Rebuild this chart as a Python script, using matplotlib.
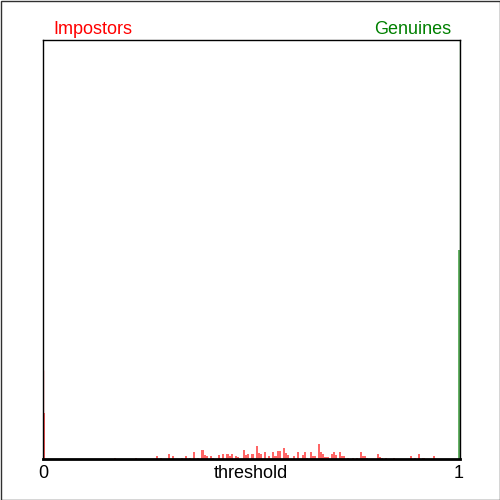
import matplotlib
matplotlib.use("Agg")
import matplotlib.pyplot as plt
from matplotlib.patches import Rectangle

plt.rcParams['font.family'] = ['Liberation Sans', 'DejaVu Sans']

# histogram bins: left edge of each bin (bin width 0.005) and its count
bin_width = 0.005
impostor_bins = [0.000, 0.170, 0.220, 0.270, 0.280, 0.300, 0.310, 0.330, 0.340,
                 0.350, 0.360, 0.370, 0.380, 0.385, 0.390, 0.400, 0.405, 0.420,
                 0.430, 0.440, 0.445, 0.450, 0.460, 0.465, 0.480, 0.485, 0.490,
                 0.500, 0.510, 0.515, 0.520, 0.530, 0.540, 0.550, 0.555, 0.560,
                 0.565, 0.575, 0.580, 0.585, 0.600, 0.610, 0.620, 0.625, 0.630,
                 0.640, 0.645, 0.650, 0.660, 0.665, 0.670, 0.675, 0.680, 0.690,
                 0.695, 0.700, 0.710, 0.715, 0.720, 0.730, 0.740, 0.750, 0.760,
                 0.765, 0.770, 0.775, 0.800, 0.805, 0.810, 0.820, 0.840, 0.880,
                 0.890, 0.900, 0.910, 0.935]
impostor_counts = [46, 1, 1, 3, 1, 5, 3, 1, 3,
                   1, 7, 1, 9, 4, 3, 3, 1, 4,
                   5, 5, 3, 5, 3, 2, 9, 4, 5,
                   5, 13, 6, 5, 7, 3, 7, 3, 8,
                   8, 11, 6, 4, 3, 7, 4, 7, 1,
                   7, 3, 3, 15, 7, 5, 2, 2, 5,
                   7, 4, 7, 3, 3, 1, 1, 1, 7,
                   3, 3, 1, 5, 2, 1, 1, 1, 3,
                   1, 5, 1, 3]
genuine_bins = [0.995]
genuine_counts = [209]

# scores exactly on the range ends
impostor_edge_score = 0.0
impostor_edge_count = 89
genuine_edge_score = 1.0
genuine_edge_count = 419

fig = plt.figure(figsize=(5, 5), dpi=100)
ax = fig.add_axes([0.086, 0.082, 0.834, 0.838])

ax.bar(impostor_bins, impostor_counts, width=bin_width, align='edge',
       color='red', alpha=0.6, linewidth=0)
ax.bar(genuine_bins, genuine_counts, width=bin_width, align='edge',
       color='green', alpha=0.6, linewidth=0)
ax.vlines(impostor_edge_score, 0, impostor_edge_count, color='red', alpha=0.6, lw=1)
ax.vlines(genuine_edge_score, 0, genuine_edge_count, color='green', alpha=0.6, lw=1)

ax.set_xlim(0, 1)
ax.set_ylim(0, genuine_edge_count)
ax.set_xticks([])
ax.set_yticks([])
for side in ['left', 'right', 'top']:
    ax.spines[side].set_color('black')
    ax.spines[side].set_linewidth(1)
ax.spines['bottom'].set_linewidth(2)

# labels around the plot
fig.text(0.106, 0.941, 'Impostors', color='red', fontsize=13, ha='left', va='center')
fig.text(0.902, 0.941, 'Genuines', color='green', fontsize=13, ha='right', va='center')
fig.text(0.086, 0.052, '0', fontsize=13, ha='center', va='center')
fig.text(0.918, 0.052, '1', fontsize=13, ha='center', va='center')
fig.text(0.502, 0.052, 'threshold', fontsize=13, ha='center', va='center')

# frame around the whole picture
fig.patches.append(Rectangle((0.001, 0.001), 0.998, 0.998, transform=fig.transFigure,
                             fill=False, edgecolor='#303030', linewidth=1))

fig.savefig('out.png', dpi=100)
